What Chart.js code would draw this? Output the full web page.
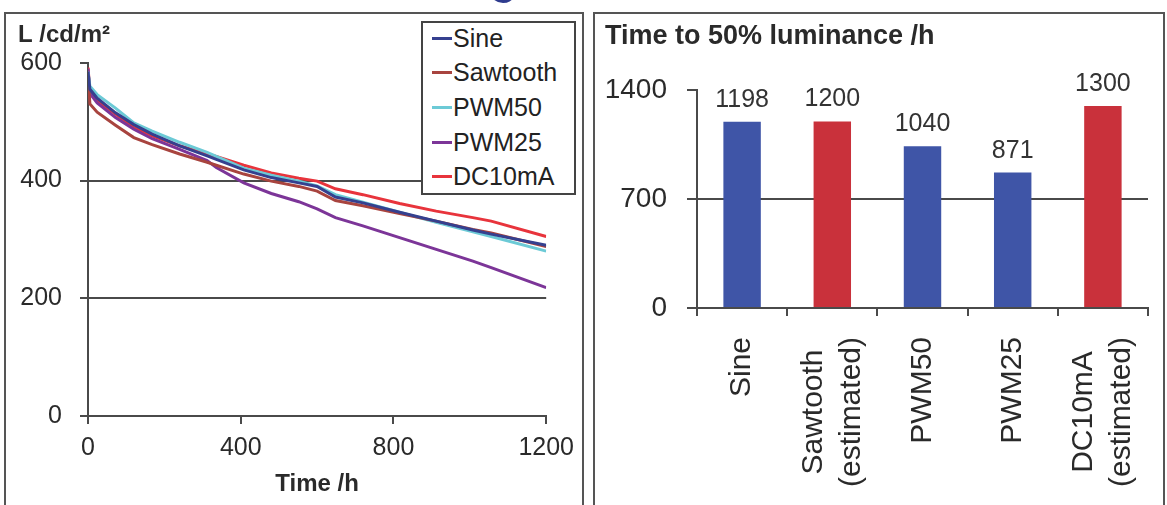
<!DOCTYPE html>
<html>
<head>
<meta charset="utf-8">
<script src="https://cdn.jsdelivr.net/npm/chart.js@4/dist/chart.umd.min.js"></script>
<style>
  html, body { margin: 0; padding: 0; background: #fff; overflow: hidden; }
  body { width: 1167px; height: 505px; position: relative; font-family: "Liberation Sans", Arial, sans-serif; }
  .panel { position: absolute; border: 2px solid #555; box-sizing: border-box; }
  canvas { position: absolute; top: 0; }
  #lifeLegend {
    position: absolute; left: 421px; top: 21px; width: 155px; height: 174px;
    box-sizing: border-box; border: 2px solid #444; background: #fff;
    padding-left: 9px;
  }
  #lifeLegend .row { display: flex; align-items: center; height: 34.6px; font-size: 25px; color: #222; }
  #lifeLegend .row:first-child { margin-top: -2px; }
  #lifeLegend .swatch { width: 20px; height: 3px; margin-right: 1px; }
  .logo { position: absolute; left: 489px; top: -25px; width: 28px; height: 28px; border-radius: 50%; background: #2e3b8e; }
</style>
</head>
<body>
<div class="logo"></div>
<div class="panel" style="left:4px; top:12px; width:580px; height:520px;"></div>
<div class="panel" style="left:593px; top:12px; width:572px; height:520px;"></div>
<canvas id="lifeChart" width="583" height="505" style="left:0"></canvas>
<canvas id="halfChart" width="574" height="505" style="left:593px"></canvas>
<div id="lifeLegend"></div>

<script>
// luminance decay, L in cd/m2 against operating hours
const hours = [0, 5, 24, 72, 120, 168, 240, 312, 336, 408, 480, 552, 600, 648, 720, 816, 912, 1008, 1056, 1200];
const sine     = [585, 555, 540, 515, 495, 479, 459, 442, 436, 418, 405, 396, 390, 372, 362, 346, 331, 316, 309, 290];
const sawtooth = [578, 530, 516, 494, 473, 461, 445, 431, 426, 411, 399, 390, 382, 366, 357, 344, 331, 317, 311, 288];
const pwm50    = [585, 560, 546, 523, 498, 484, 465, 448, 441, 421, 409, 399, 391, 376, 363, 346, 329, 313, 305, 280];
const pwm25    = [590, 548, 532, 507, 487, 471, 453, 434, 422, 396, 378, 364, 352, 337, 323, 303, 283, 263, 252, 218];
const dc10mA   = [592, 552, 536, 513, 490, 476, 459, 445, 441, 426, 413, 404, 399, 386, 376, 361, 348, 337, 331, 305];

const seriesNames  = ["Sine", "Sawtooth", "PWM50", "PWM25", "DC10mA"];
const seriesValues = [sine, sawtooth, pwm50, pwm25, dc10mA];
const seriesColors = ["#35408f", "#a8443f", "#6ccad6", "#7c3598", "#e8343c"];

const lumTicks = [0, 200, 400, 600];
const hourTicks = [0, 400, 800, 1200];

// time to reach half of the starting luminance
const driveLabels = [["Sine"], ["Sawtooth", "(estimated)"], ["PWM50"], ["PWM25"], ["DC10mA", "(estimated)"]];
const halfLifeHours = [1198, 1200, 1040, 871, 1300];
const halfLifeColors = ["#3f55a7", "#c9313b", "#3f55a7", "#3f55a7", "#c9313b"];
const halfTicks = [0, 700, 1400];

const FONT = "'Liberation Sans', Arial, sans-serif";
const AXIS = "#4a4a4a";
const TEXT = "#2a2a2a";

function hideTopLine(top) {
  return function(ctx) {
    return ctx.tick && ctx.tick.value === top ? "rgba(0,0,0,0)" : AXIS;
  };
}

// plain numbers, no thousands separator
const plain = v => String(v);

function drawLifeChart() {
  const datasets = seriesNames.map((name, i) => ({
    label: name,
    data: hours.map((h, j) => ({ x: h, y: seriesValues[i][j] })),
    borderColor: seriesColors[i],
    borderWidth: 3,
    pointRadius: 0,
    tension: 0,
    fill: false
  }));

  const chart = new Chart(document.getElementById("lifeChart"), {
    type: "line",
    data: { datasets: datasets },
    options: {
      responsive: false,
      animation: false,
      layout: { padding: { left: 18, top: 0, right: 36, bottom: 0 } },
      plugins: {
        legend: { display: false },
        tooltip: { enabled: false },
        title: {
          display: true,
          text: "L /cd/m\u00b2",
          align: "start",
          color: TEXT,
          font: { family: FONT, size: 24, weight: "bold", lineHeight: 1.2 },
          padding: { top: 21, bottom: 13 }
        }
      },
      scales: {
        x: {
          type: "linear",
          min: hourTicks[0],
          max: hourTicks[hourTicks.length - 1],
          afterBuildTicks: s => { s.ticks = hourTicks.map(v => ({ value: v })); },
          afterFit: s => { s.height = 89; },
          border: { color: AXIS, width: 2 },
          grid: { drawOnChartArea: false, tickLength: 8, tickColor: AXIS, lineWidth: 2 },
          ticks: { color: TEXT, font: { family: FONT, size: 25 }, padding: 9, maxRotation: 0, callback: plain },
          title: {
            display: true,
            text: "Time /h",
            color: TEXT,
            font: { family: FONT, size: 24, weight: "bold", lineHeight: 1.2 },
            padding: { top: 0, bottom: 6 }
          }
        },
        y: {
          min: lumTicks[0],
          max: lumTicks[lumTicks.length - 1],
          afterBuildTicks: s => { s.ticks = lumTicks.map(v => ({ value: v })); },
          afterFit: s => { s.width = 70; },
          border: { color: AXIS, width: 2 },
          grid: { color: hideTopLine(600), tickColor: AXIS, tickLength: 8, lineWidth: 2 },
          ticks: { color: TEXT, font: { family: FONT, size: 25 }, padding: 18, callback: plain }
        }
      }
    }
  });

  // legend box inside the plot
  const box = document.getElementById("lifeLegend");
  chart.data.datasets.forEach(ds => {
    const row = document.createElement("div");
    row.className = "row";
    const sw = document.createElement("span");
    sw.className = "swatch";
    sw.style.background = ds.borderColor;
    row.appendChild(sw);
    row.appendChild(document.createTextNode(ds.label));
    box.appendChild(row);
  });
}

// numbers above each bar
const barValueLabels = {
  id: "barValueLabels",
  afterDatasetsDraw(chart) {
    const ctx = chart.ctx;
    const meta = chart.getDatasetMeta(0);
    ctx.save();
    ctx.font = "25px " + FONT;
    ctx.fillStyle = "#333";
    ctx.textAlign = "center";
    ctx.textBaseline = "middle";
    meta.data.forEach((bar, i) => {
      ctx.fillText(String(chart.data.datasets[0].data[i]), bar.x, bar.y - 22);
    });
    ctx.restore();
  }
};

// vertical category names, lines centred on each other
const verticalCategories = {
  id: "verticalCategories",
  afterDraw(chart) {
    const ctx = chart.ctx;
    const xs = chart.scales.x;
    const top = chart.chartArea.bottom + 29;
    const lh = 38;
    ctx.save();
    ctx.font = "30px " + FONT;
    ctx.fillStyle = TEXT;
    ctx.textAlign = "center";
    ctx.textBaseline = "middle";
    chart.data.labels.forEach((lines, i) => {
      const w = Math.max(...lines.map(t => ctx.measureText(t).width));
      const x = xs.getPixelForTick(i);
      ctx.save();
      ctx.translate(x, top);
      ctx.rotate(-Math.PI / 2);
      lines.forEach((t, k) => {
        ctx.fillText(t, -w / 2, (k - (lines.length - 1) / 2) * lh);
      });
      ctx.restore();
    });
    ctx.restore();
  }
};

function drawHalfLifeChart() {
  new Chart(document.getElementById("halfChart"), {
    type: "bar",
    data: {
      labels: driveLabels,
      datasets: [{
        data: halfLifeHours,
        backgroundColor: halfLifeColors,
        barPercentage: 0.415,
        categoryPercentage: 1.0
      }]
    },
    options: {
      responsive: false,
      animation: false,
      layout: { padding: { left: 12, top: 0, right: 19, bottom: 0 } },
      plugins: {
        legend: { display: false },
        tooltip: { enabled: false },
        title: {
          display: true,
          text: "Time to 50% luminance /h",
          align: "start",
          color: TEXT,
          font: { family: FONT, size: 27, weight: "bold", lineHeight: 1.2 },
          padding: { top: 20, bottom: 38 }
        }
      },
      scales: {
        x: {
          afterFit: s => { s.height = 197; },
          border: { color: AXIS, width: 2 },
          grid: { drawOnChartArea: false, offset: true, tickLength: 8, tickColor: AXIS, lineWidth: 2 },
          ticks: { display: false }
        },
        y: {
          min: halfTicks[0],
          max: halfTicks[halfTicks.length - 1],
          afterBuildTicks: s => { s.ticks = halfTicks.map(v => ({ value: v })); },
          afterFit: s => { s.width = 92; },
          border: { color: AXIS, width: 2 },
          grid: { color: hideTopLine(1400), tickColor: AXIS, tickLength: 10, lineWidth: 2 },
          ticks: { color: TEXT, font: { family: FONT, size: 28 }, padding: 20, callback: plain }
        }
      }
    },
    plugins: [barValueLabels, verticalCategories]
  });
}

drawLifeChart();
drawHalfLifeChart();
</script>
</body>
</html>
